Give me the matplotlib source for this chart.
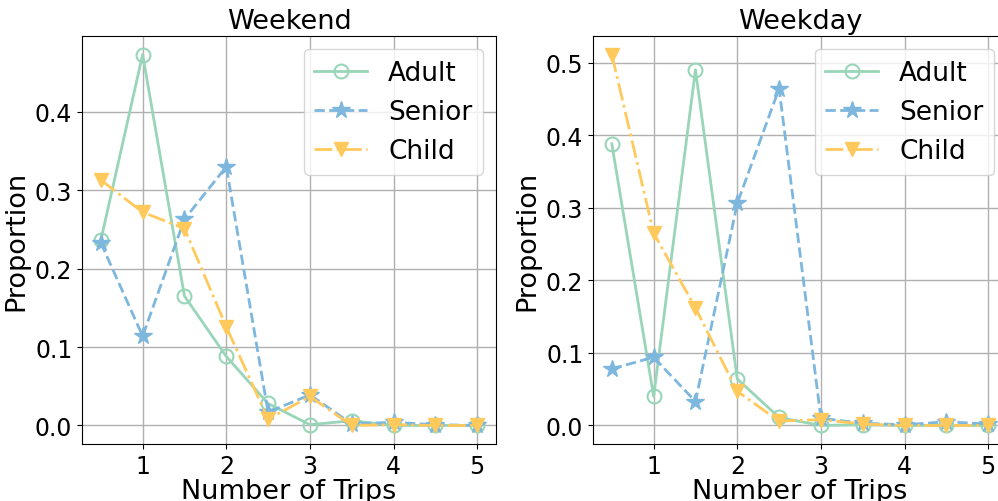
import matplotlib
matplotlib.use("Agg")
import matplotlib.pyplot as plt

trips = [0.5, 1.0, 1.5, 2.0, 2.5, 3.0, 3.5, 4.0, 4.5, 5.0]
xticks = [1, 2, 3, 4, 5]

weekend_adult = [0.236, 0.473, 0.165, 0.088, 0.028, 0.001, 0.006, 0.0, 0.0, 0.0]
weekend_senior = [0.233, 0.114, 0.263, 0.330, 0.017, 0.039, 0.002, 0.004, 0.001, 0.0]
weekend_child = [0.313, 0.272, 0.251, 0.126, 0.008, 0.037, 0.0, 0.001, 0.0, 0.0]

weekday_adult = [0.388, 0.040, 0.490, 0.064, 0.011, 0.0, 0.001, 0.0, 0.0, 0.0]
weekday_senior = [0.078, 0.094, 0.033, 0.306, 0.464, 0.010, 0.003, 0.001, 0.005, 0.002]
weekday_child = [0.511, 0.265, 0.162, 0.047, 0.006, 0.008, 0.002, 0.0, 0.0, 0.0]

groups = ["Adult", "Senior", "Child"]
colors = ["#99d5b9", "#7db7de", "#ffc95c"]

fig = plt.figure(figsize=(9.98, 5.02), dpi=100)
ax1 = fig.add_axes([82/998, 57/502, 414/998, 408/502])
ax2 = fig.add_axes([593/998, 57/502, 414/998, 408/502])

fs = 19.5
for ax, title, data in [(ax1, "Weekend", (weekend_adult, weekend_senior, weekend_child)),
                        (ax2, "Weekday", (weekday_adult, weekday_senior, weekday_child))]:
    a, s, c = data
    ax.plot(trips, a, '-', marker='o', color=colors[0], mfc='none', ms=10, lw=2, mew=1.5, label=groups[0])
    ax.plot(trips, s, '--', marker='*', color=colors[1], ms=13, lw=2, label=groups[1])
    ax.plot(trips, c, '-.', marker='v', color=colors[2], ms=10, lw=2, label=groups[2])
    ax.grid(True, color='#b0b0b0', lw=1)
    ax.set_axisbelow(True)
    ax.set_xticks(xticks)
    ax.tick_params(labelsize=17)
    ax.set_title(title, fontsize=fs)
    ax.set_xlabel("Number of Trips", fontsize=fs, labelpad=0)
    ax.set_ylabel("Proportion", fontsize=fs)
    ax.legend(loc='upper right', fontsize=19)

fig.savefig("out.png", dpi=100)
